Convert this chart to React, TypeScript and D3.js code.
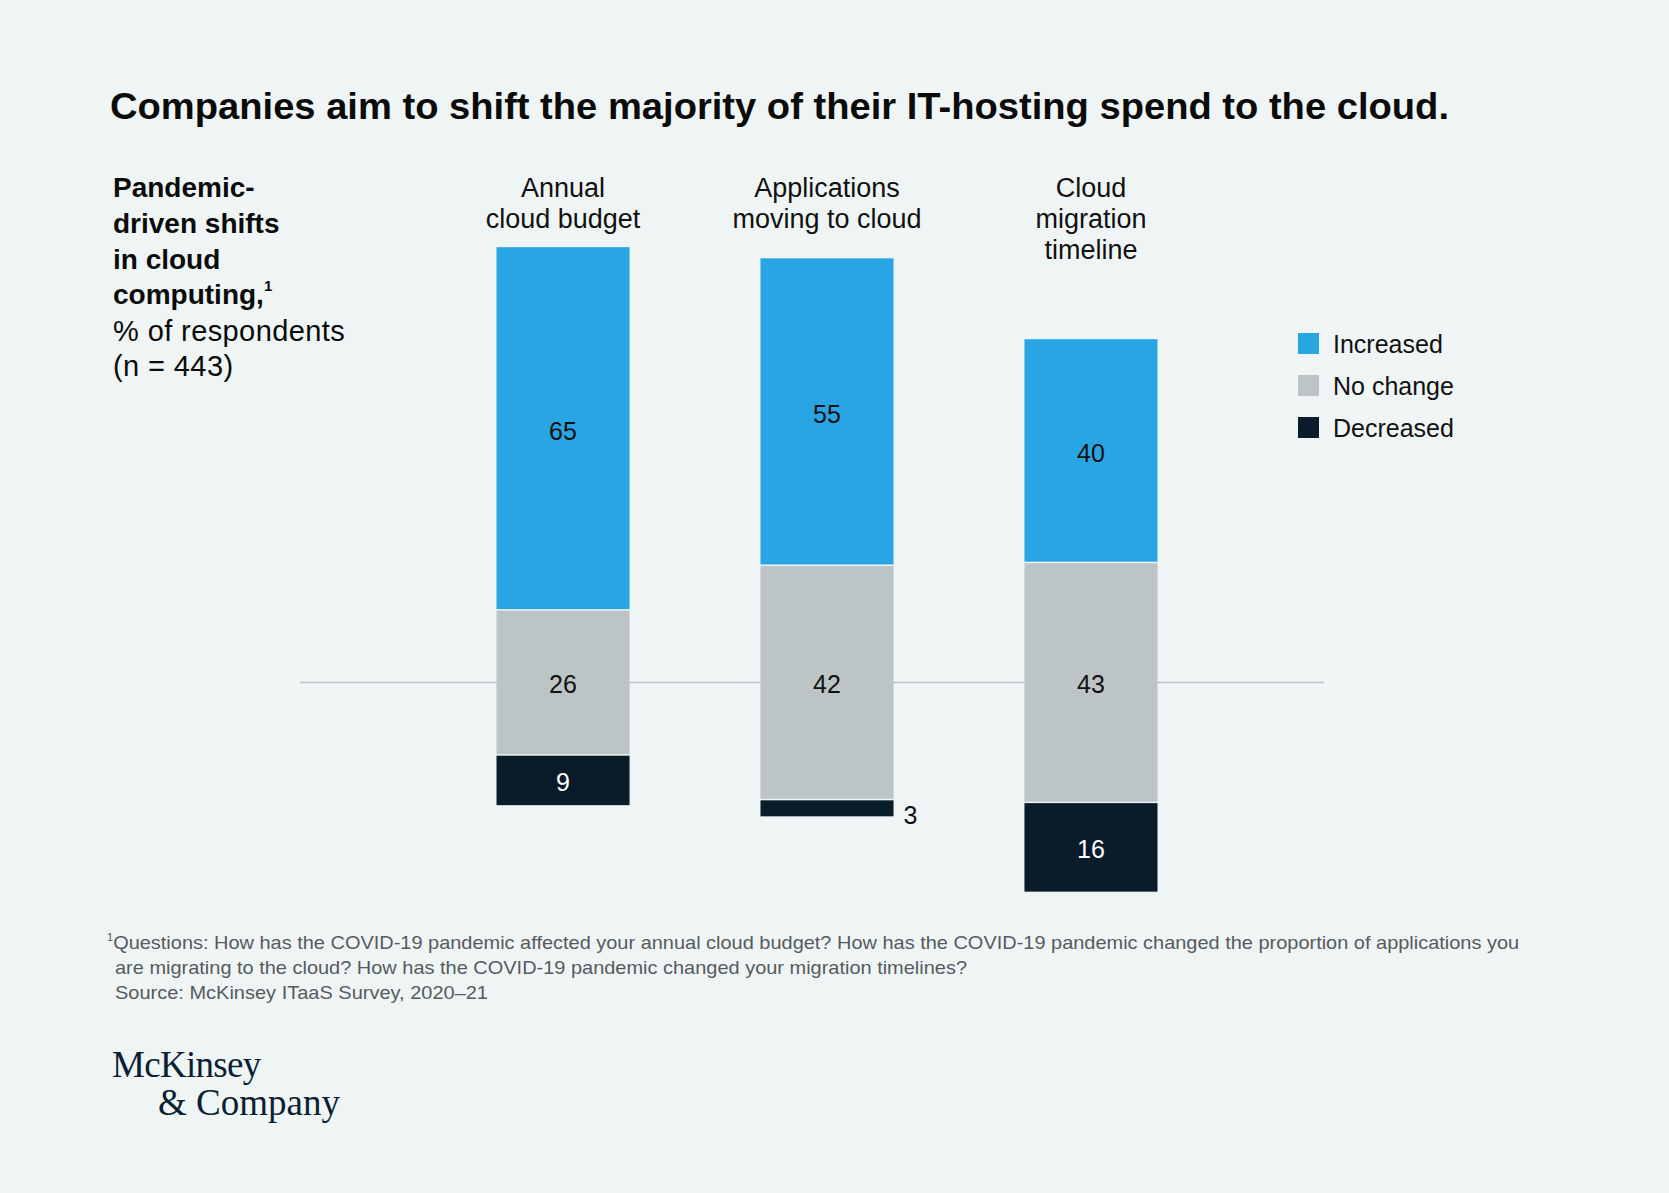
import React, { useEffect } from "react";
import * as d3 from "d3";

const categories = ["Annual cloud budget", "Applications moving to cloud", "Cloud migration timeline"];
const categoryLines = [["Annual", "cloud budget"], ["Applications", "moving to cloud"], ["Cloud", "migration", "timeline"]];
const increased = [65, 55, 40];
const noChange = [26, 42, 43];
const decreased = [9, 3, 16];
const seriesNames = ["Increased", "No change", "Decreased"];
const seriesColors = ["#29A5E3", "#BDC4C6", "#0A1B2A"];
const labelColors = ["#111111", "#111111", "#FFFFFF"];
const subtitleBold = ["Pandemic-", "driven shifts", "in cloud", "computing,"];
const subtitleRegular = ["% of respondents", "(n = 443)"];
const footnotes = [
  "Questions: How has the COVID-19 pandemic affected your annual cloud budget? How has the COVID-19 pandemic changed the proportion of applications you",
  "are migrating to the cloud? How has the COVID-19 pandemic changed your migration timelines?",
  "Source: McKinsey ITaaS Survey, 2020\u201321",
];

const W = 1669;
const H = 1193;
const BG = "#EEF5F4";
const SANS = "'Liberation Sans', Arial, Helvetica, sans-serif";
const SERIF = "'Liberation Serif', 'Times New Roman', serif";

export default function App() {
  useEffect(() => {
    document.body.style.margin = "0";
    document.body.style.background = BG;
  }, []);

  const x = d3.scaleBand<string>().domain(categories).range([496.5, 1157.5]).paddingInner(0.496).paddingOuter(0);
  const y = d3.scaleLinear().domain([-80, 40]).range([236, 905.6]);

  const segs: any[] = [];
  categories.forEach((c, i) => {
    const half = noChange[i] / 2;
    const parts = [
      { s: 0, v: increased[i], a: -half - increased[i], b: -half },
      { s: 1, v: noChange[i], a: -half, b: half },
      { s: 2, v: decreased[i], a: half, b: half + decreased[i] },
    ];
    parts.forEach((p) => segs.push({ ...p, c }));
  });

  const gap = 1.5;

  return (
    <svg width={W} height={H} viewBox={`0 0 ${W} ${H}`} style={{ display: "block", background: BG }}>
      <rect x={0} y={0} width={W} height={H} fill={BG} />
      <text x={110} y={119} fontFamily={SANS} fontWeight="bold" fontSize={37} fill="#0B0B0B" textLength={1339} lengthAdjust="spacingAndGlyphs">
        Companies aim to shift the majority of their IT-hosting spend to the cloud.
      </text>

      {subtitleBold.map((t, i) => (
        <text key={t} x={113} y={197 + i * 35.8} fontFamily={SANS} fontWeight="bold" fontSize={28} fill="#0B0B0B">
          {t}
          {i === subtitleBold.length - 1 ? (
            <tspan fontSize={15} dy={-13}>1</tspan>
          ) : null}
        </text>
      ))}
      {subtitleRegular.map((t, i) => (
        <text key={t} x={113} y={341 + i * 35} fontFamily={SANS} fontSize={29} letterSpacing={0.4} fill="#0B0B0B">
          {t}
        </text>
      ))}

      <line x1={300} x2={1324} y1={y(0)} y2={y(0)} stroke="#BCC4C5" strokeWidth={1.5} />

      {categories.map((c, i) => (
        <text key={c} textAnchor="middle" fontFamily={SANS} fontSize={27} fill="#111">
          {categoryLines[i].map((l, j) => (
            <tspan key={l} x={(x(c) as number) + x.bandwidth() / 2} y={197 + j * 30.8}>
              {l}
            </tspan>
          ))}
        </text>
      ))}

      {segs.map((d, k) => {
        const y0 = y(d.a);
        const y1 = y(d.b);
        const top = d.s === 0 ? y0 : y0 + gap / 2;
        const bot = d.s === 2 ? y1 : y1 - gap / 2;
        return (
          <rect key={k} x={x(d.c)} width={x.bandwidth()} y={top} height={bot - top} fill={seriesColors[d.s]} />
        );
      })}

      {segs.map((d, k) => {
        const y0 = y(d.a);
        const y1 = y(d.b);
        const cx = (x(d.c) as number) + x.bandwidth() / 2;
        const small = y1 - y0 < 30;
        return (
          <text
            key={"l" + k}
            x={small ? (x(d.c) as number) + x.bandwidth() + 10 : cx}
            y={small ? y1 - 1 : (y0 + y1) / 2 + 2}
            dy="0.36em"
            textAnchor={small ? "start" : "middle"}
            fontFamily={SANS}
            fontSize={25}
            fill={small ? "#111" : labelColors[d.s]}
          >
            {d.v}
          </text>
        );
      })}

      {seriesNames.map((n, i) => (
        <g key={n}>
          <rect x={1298} y={333 + i * 42} width={21} height={21} fill={seriesColors[i]} />
          <text x={1333} y={353 + i * 42} fontFamily={SANS} fontSize={25} fill="#111">
            {n}
          </text>
        </g>
      ))}

      <text x={107} y={949} fontFamily={SANS} fontSize={19} fill="#555B5E">
        <tspan fontSize={11} dy={-8}>1</tspan>
        <tspan dy={8} textLength={1406} lengthAdjust="spacingAndGlyphs">{footnotes[0]}</tspan>
      </text>
      <text x={115} y={974} fontFamily={SANS} fontSize={19} fill="#555B5E" textLength={852} lengthAdjust="spacingAndGlyphs">
        {footnotes[1]}
      </text>
      <text x={115} y={999} fontFamily={SANS} fontSize={19} fill="#555B5E" textLength={373} lengthAdjust="spacingAndGlyphs">
        {footnotes[2]}
      </text>

      <text x={112} y={1077} fontFamily={SERIF} fontSize={37} fill="#0C1E33" letterSpacing={-0.7}>
        McKinsey
      </text>
      <text x={158} y={1115} fontFamily={SERIF} fontSize={37} fill="#0C1E33" letterSpacing={0}>
        &amp; Company
      </text>
    </svg>
  );
}
